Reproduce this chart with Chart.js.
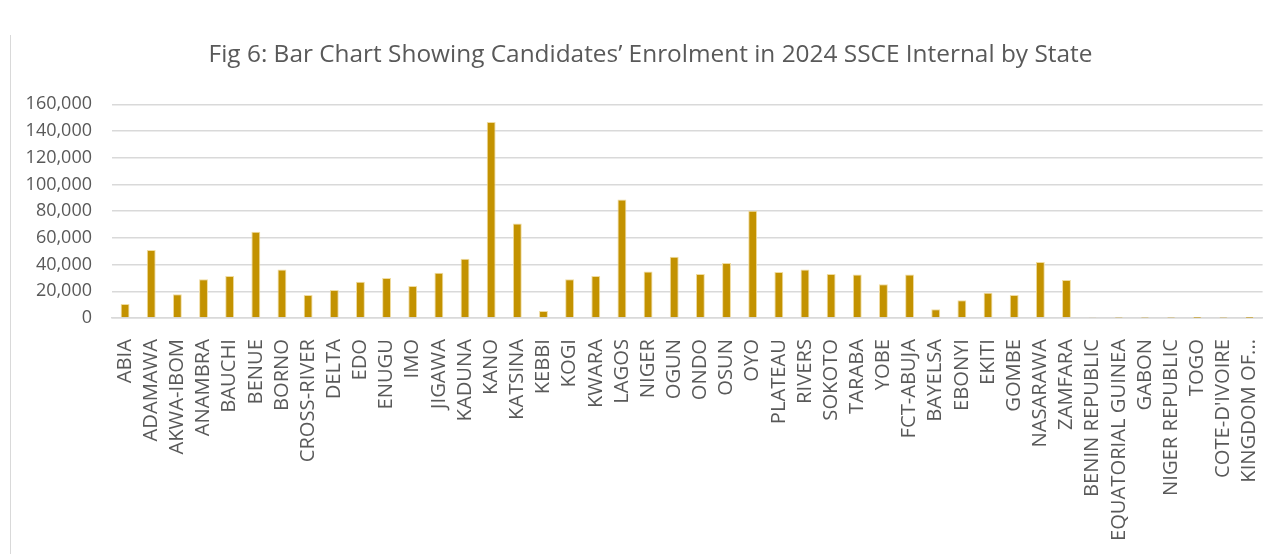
<!DOCTYPE html>
<html lang="en">
<head>
    <meta charset="UTF-8">
    <title>Candidates' Enrolment in 2024 SSCE Internal by State</title>
    <script src="https://cdn.jsdelivr.net/npm/chart.js"></script>
    <style>
        body { margin: 0; background: #fff; }
        #wrap { position: relative; width: 1287px; height: 554px; }
        /* thin frame line on the left, as in the source figure */
        #frame { position: absolute; left: 10px; top: 35px; bottom: 0; border-left: 1px solid #d9d9d9; }
    </style>
</head>
<body>
<div id="wrap">
    <div id="frame"></div>
    <canvas id="barChart" width="1287" height="554"></canvas>
</div>
<script>
    // states / countries (x axis)
    var states = ['ABIA', 'ADAMAWA', 'AKWA-IBOM', 'ANAMBRA', 'BAUCHI', 'BENUE', 'BORNO', 'CROSS-RIVER',
        'DELTA', 'EDO', 'ENUGU', 'IMO', 'JIGAWA', 'KADUNA', 'KANO', 'KATSINA', 'KEBBI', 'KOGI', 'KWARA',
        'LAGOS', 'NIGER', 'OGUN', 'ONDO', 'OSUN', 'OYO', 'PLATEAU', 'RIVERS', 'SOKOTO', 'TARABA', 'YOBE',
        'FCT-ABUJA', 'BAYELSA', 'EBONYI', 'EKITI', 'GOMBE', 'NASARAWA', 'ZAMFARA', 'BENIN REPUBLIC',
        'EQUATORIAL GUINEA', 'GABON', 'NIGER REPUBLIC', 'TOGO', "COTE-D'IVOIRE", 'KINGDOM OF...'];

    // candidates enrolled
    var enrolment = [10500, 51000, 17700, 29000, 31400, 64500, 36400, 17200,
        20900, 27200, 29900, 23900, 33900, 44400, 146800, 70800, 5200, 29000, 31400,
        88700, 34900, 45800, 32900, 41100, 80200, 34400, 36400, 32900, 32600, 25200,
        32600, 6500, 13200, 18900, 17200, 41900, 28400, 300,
        150, 100, 250, 80, 120, 60];

    // y axis
    var yMax = 160000;
    var yStep = 20000;

    // nudge the title a little to the right, like the original figure
    var titleShift = {
        id: 'titleShift',
        afterLayout: function (chart) {
            chart.titleBlock.left += 17;
            chart.titleBlock.right += 17;
        }
    };

    var ctx = document.getElementById('barChart').getContext('2d');
    new Chart(ctx, {
        type: 'bar',
        data: {
            labels: states,
            datasets: [{
                label: 'Enrolment',
                data: enrolment,
                backgroundColor: '#c39200',
                borderColor: '#f0dca0',
                borderWidth: { top: 1, left: 1, right: 1, bottom: 0 },
                barPercentage: 0.34,
                categoryPercentage: 1.0
            }]
        },
        options: {
            responsive: false,
            animation: false,
            layout: { padding: { left: 0, right: 20, top: 0, bottom: 0 } },
            plugins: {
                legend: { display: false },
                tooltip: { enabled: false },
                title: {
                    display: true,
                    text: 'Fig 6: Bar Chart Showing Candidates\u2019 Enrolment in 2024 SSCE Internal by State',
                    color: '#595959',
                    font: { family: '"Open Sans", sans-serif', size: 24.4, weight: 'normal' },
                    padding: { top: 40, bottom: 35 }
                }
            },
            scales: {
                x: {
                    grid: { display: false },
                    border: { color: '#d9d9d9', width: 1.5 },
                    ticks: {
                        autoSkip: false,
                        maxRotation: 90,
                        minRotation: 90,
                        color: '#595959',
                        padding: 13,
                        font: { family: '"Open Sans", sans-serif', size: 20.2 }
                    },
                    afterFit: function (scale) { scale.height = 236; }
                },
                y: {
                    min: 0,
                    max: yMax,
                    grid: { color: '#d9d9d9', lineWidth: 1.5, drawTicks: false },
                    border: { display: false },
                    ticks: {
                        stepSize: yStep,
                        color: '#595959',
                        padding: 20,
                        font: { family: '"Open Sans", sans-serif', size: 18 },
                        callback: function (v) { return v.toLocaleString('en-US'); }
                    },
                    afterFit: function (scale) { scale.width = 112; }
                }
            }
        },
        plugins: [titleShift]
    });
</script>
</body>
</html>
